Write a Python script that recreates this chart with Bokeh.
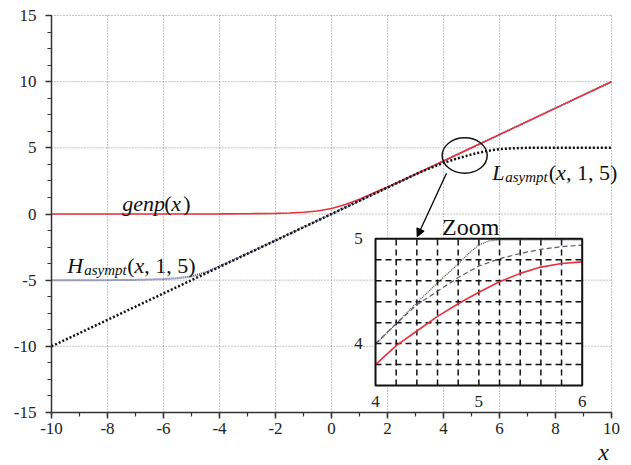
from bokeh.plotting import figure
from bokeh.models import Range1d, SingleIntervalTicker, Label, Arrow, NormalHead, PrintfTickFormatter
from bokeh.embed import file_html
from bokeh.resources import INLINE
from bokeh.core.properties import value

# ---------------- main chart data ----------------
x_genp = [-10, -8, -6, -4, -3, -2, -1.5, -1, -0.5, 0, 0.5, 1, 1.5, 2, 2.5, 3, 4, 5, 6, 8, 10]
genp = [0, 0, 0, 0.01, 0.02, 0.05, 0.08, 0.13, 0.23, 0.42, 0.72, 1.12, 1.58, 2.05, 2.52, 3.01, 4.0, 5.0, 6.0, 8.0, 10.0]

x_h = [-10, -8, -7, -6, -5.5, -5, -4.5, -4, -3.5, -3, -2, 0, 2, 4, 6, 8, 10]
h_asympt = [-5, -5, -4.98, -4.92, -4.85, -4.72, -4.4, -3.95, -3.47, -2.99, -2, 0, 2, 4, 6, 8, 10]

x_l = [-10, -6, -2, 0, 2, 3, 3.5, 4, 4.5, 5, 5.5, 6, 6.5, 7, 8, 10]
l_asympt = [-10, -6, -2, 0, 2, 3.0, 3.45, 3.86, 4.2, 4.5, 4.75, 4.9, 4.97, 5.0, 5.0, 5.0]

x_lim = [-10, 10]
y_lim = [-15, 15]
grid_x = [-8, -6, -4, -2, 0, 2, 4, 6, 8, 10]
grid_y = [-10, -5, 0, 5, 10, 15]

# zoom region marker (main coordinates)
zoom_cx = [4.757]
zoom_cy = [4.42]
zoom_w = [1.607]
zoom_h = [2.675]

# ---------------- inset data ----------------
inset_x = [4.0, 4.2, 4.4, 4.6, 4.8, 5.0, 5.2, 5.4, 5.6, 5.8, 6.0]
inset_genp = [3.80, 3.98, 4.12, 4.26, 4.38, 4.49, 4.59, 4.67, 4.73, 4.765, 4.78]
inset_h = [4.0, 4.19, 4.37, 4.50, 4.63, 4.74, 4.81, 4.86, 4.90, 4.925, 4.94]
inset_xl = [4.0, 4.2, 4.4, 4.6, 4.8, 4.9, 5.0, 5.1, 5.2, 5.4, 5.6, 5.8, 6.0]
inset_l = [3.99, 4.19, 4.39, 4.58, 4.76, 4.86, 4.94, 4.98, 4.99, 4.99, 4.99, 4.99, 4.99]

inset_xlim = [4.0, 6.0]
inset_ylim = [3.6, 5.0]
inset_vgrid = [4.2, 4.4, 4.6, 4.8, 5.0, 5.2, 5.4, 5.6, 5.8]
inset_hgrid = [3.8, 4.0, 4.2, 4.4, 4.6, 4.8]
inset_xticks = [4, 5, 6]
inset_xtick_labels = ["4", "5", "6"]
inset_yticks = [5, 4]
inset_ytick_labels = ["5", "4"]

RED = "#e8313a"
SERIF = "Liberation Serif"

# the frame fills the whole canvas so that no text is clipped; the axes are pinned to
# the reference's [-10, 10] x [-15, 15] box with fixed locations and bounds
p = figure(width=631, height=465,
           x_range=Range1d(-11.8214, 10.7143), y_range=Range1d(-19.005, 16.1335),
           output_backend="svg", toolbar_location=None,
           min_border_left=0, min_border_right=0, min_border_top=0, min_border_bottom=0)
p.outline_line_color = None
p.background_fill_color = "white"
p.border_fill_color = "white"
p.grid.visible = False

p.extra_x_ranges = {"ix": Range1d(0.3715, 6.4769)}
p.extra_y_ranges = {"iy": Range1d(2.8366, 7.2741)}

# axes
p.xaxis.fixed_location = y_lim[0]
p.yaxis.fixed_location = x_lim[0]
p.xaxis.bounds = tuple(x_lim)
p.yaxis.bounds = tuple(y_lim)
p.xaxis.ticker = SingleIntervalTicker(interval=2, num_minor_ticks=2)
p.yaxis.ticker = SingleIntervalTicker(interval=5, num_minor_ticks=4)
for ax in (p.xaxis, p.yaxis):
    ax.formatter = PrintfTickFormatter(format="%d")
    ax.axis_line_color = "#333333"
    ax.axis_line_width = 1.5
    ax.major_tick_line_color = "#333333"
    ax.major_tick_line_width = 1.5
    ax.minor_tick_line_color = "#333333"
    ax.minor_tick_line_width = 1.2
    ax.major_tick_out = 6
    ax.major_tick_in = 0
    ax.minor_tick_out = 4
    ax.minor_tick_in = 0
    ax.major_label_text_font = SERIF
    ax.major_label_text_font_size = "17px"
    ax.major_label_text_color = "#222222"
p.yaxis.major_label_standoff = 9
p.xaxis.major_label_standoff = 4

# main grid (dotted)
p.segment(x0=grid_x, x1=grid_x, y0=[y_lim[0]] * len(grid_x), y1=[y_lim[1]] * len(grid_x),
          line_color="#8a8a8a", line_width=1, line_dash="1 2")
p.segment(x0=[x_lim[0]] * len(grid_y), x1=[x_lim[1]] * len(grid_y), y0=grid_y, y1=grid_y,
          line_color="#8a8a8a", line_width=1, line_dash="1 2")

# main curves
p.line(x_h, h_asympt, line_color="#4b4f8c", line_width=2, line_dash="1 1")
p.line(x_genp, genp, line_color=RED, line_width=1.6)
p.line(x_l, l_asympt, line_color="#111111", line_width=2.5, line_dash="2 2")

# zoom ellipse
p.ellipse(x=zoom_cx, y=zoom_cy, width=zoom_w, height=zoom_h,
          fill_color=None, line_color="#111111", line_width=1.5)

# arrow
p.add_layout(Arrow(end=NormalHead(size=8, fill_color="black", line_color="black"),
                   x_start=4.107, y_start=3.08, x_end=3.06, y_end=-1.72,
                   line_width=1.3, line_color="black"))

# ---------------- inset ----------------
ir = dict(x_range_name="ix", y_range_name="iy")
p.quad(left=[inset_xlim[0]], right=[inset_xlim[1]], bottom=[inset_ylim[0]], top=[inset_ylim[1]],
       fill_color="white", line_color=None, **ir)
p.segment(x0=inset_vgrid, x1=inset_vgrid, y0=[inset_ylim[0]] * len(inset_vgrid), y1=[inset_ylim[1]] * len(inset_vgrid),
          line_color="#111111", line_width=1.5, line_dash="6 4", **ir)
p.segment(x0=[inset_xlim[0]] * len(inset_hgrid), x1=[inset_xlim[1]] * len(inset_hgrid), y0=inset_hgrid, y1=inset_hgrid,
          line_color="#111111", line_width=1.5, line_dash="6 4", **ir)
p.line(inset_xl, inset_l, line_color="#444444", line_width=1.2, line_dash="1 1", **ir)
p.line(inset_x, inset_h, line_color="#555a75", line_width=1.2, line_dash="5 3", **ir)
p.line(inset_x, inset_genp, line_color=RED, line_width=1.6, **ir)
p.quad(left=[inset_xlim[0]], right=[inset_xlim[1]], bottom=[inset_ylim[0]], top=[inset_ylim[1]],
       fill_color=None, line_color="#111111", line_width=2, **ir)
p.text(x=inset_xticks, y=[3.443] * len(inset_xticks), text=inset_xtick_labels,
       text_font=value(SERIF), text_font_size="17px", text_color="#222222",
       text_align="center", text_baseline="middle", **ir)
p.text(x=[3.836] * len(inset_yticks), y=inset_yticks, text=inset_ytick_labels,
       text_font=value(SERIF), text_font_size="17px", text_color="#222222",
       text_align="center", text_baseline="middle", **ir)

# ---------------- text labels ----------------
def lab(x, y, text, size, italic=True, dx=0, dy=0, align="left", baseline="alphabetic"):
    p.add_layout(Label(x=x, y=y, text=text, x_offset=dx, y_offset=dy,
                       text_font=SERIF, text_font_size=size,
                       text_font_style="italic" if italic else "normal",
                       text_color="#111111", text_align=align, text_baseline=baseline))

# genp(x)
gx, gy = -7.475, 0.76
lab(gx, gy, "genp", "22px", True)
lab(gx, gy, "(", "22px", False, dx=42)
lab(gx, gy, "x", "22px", True, dx=49)
lab(gx, gy, ")", "22px", False, dx=61)

# H_asympt(x, 1, 5)
hx, hy = -9.44, -3.89
lab(hx, hy, "H", "22px", True)
lab(hx, hy, "asympt", "15px", True, dx=17, dy=-5)
lab(hx, hy, "(", "22px", False, dx=60)
lab(hx, hy, "x", "22px", True, dx=67.3)
lab(hx, hy, ", 1, 5)", "22px", False, dx=77.1)

# L_asympt(x, 1, 5)
lx, ly = 5.74, 3.16
lab(lx, ly, "L", "22px", True)
lab(lx, ly, "asympt", "15px", True, dx=13, dy=-5)
lab(lx, ly, "(", "22px", False, dx=56.6)
lab(lx, ly, "x", "22px", True, dx=63.9)
lab(lx, ly, ", 1, 5)", "22px", False, dx=73.7)

# Zoom
lab(3.95, -0.95, "Zoom", "24px", False)

# x axis label
lab(9.714, -18.0, "x", "24px", True, align="center", baseline="middle")

open("out.html", "w").write(file_html(p, INLINE))
